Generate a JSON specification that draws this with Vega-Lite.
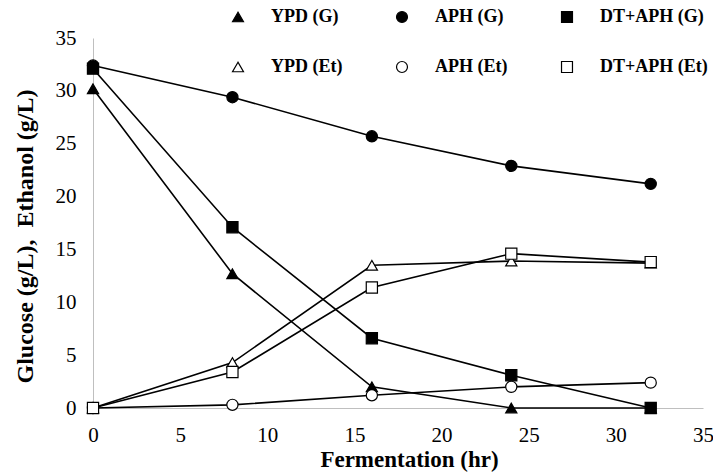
{
  "$schema": "https://vega.github.io/schema/vega-lite/v6.json",
  "width": 610,
  "height": 370,
  "autosize": {"type": "none"},
  "padding": {"left": 93, "top": 38, "right": 10, "bottom": 68},
  "background": "white",
  "config": {
    "view": {"stroke": null},
    "font": "Liberation Serif"
  },
  "data": {
    "values": [
      {"series": "YPD (G)", "time": 0, "value": 30.2},
      {"series": "YPD (G)", "time": 8, "value": 12.7},
      {"series": "YPD (G)", "time": 16, "value": 2.0},
      {"series": "YPD (G)", "time": 24, "value": 0},
      {"series": "YPD (G)", "time": 32, "value": 0},
      {"series": "APH (G)", "time": 0, "value": 32.4},
      {"series": "APH (G)", "time": 8, "value": 29.4},
      {"series": "APH (G)", "time": 16, "value": 25.7},
      {"series": "APH (G)", "time": 24, "value": 22.9},
      {"series": "APH (G)", "time": 32, "value": 21.2},
      {"series": "DT+APH (G)", "time": 0, "value": 32.1},
      {"series": "DT+APH (G)", "time": 8, "value": 17.1},
      {"series": "DT+APH (G)", "time": 16, "value": 6.6},
      {"series": "DT+APH (G)", "time": 24, "value": 3.1},
      {"series": "DT+APH (G)", "time": 32, "value": 0},
      {"series": "YPD (Et)", "time": 0, "value": 0},
      {"series": "YPD (Et)", "time": 8, "value": 4.3},
      {"series": "YPD (Et)", "time": 16, "value": 13.5},
      {"series": "YPD (Et)", "time": 24, "value": 13.9},
      {"series": "YPD (Et)", "time": 32, "value": 13.7},
      {"series": "APH (Et)", "time": 0, "value": 0},
      {"series": "APH (Et)", "time": 8, "value": 0.3},
      {"series": "APH (Et)", "time": 16, "value": 1.2},
      {"series": "APH (Et)", "time": 24, "value": 2.0},
      {"series": "APH (Et)", "time": 32, "value": 2.4},
      {"series": "DT+APH (Et)", "time": 0, "value": 0},
      {"series": "DT+APH (Et)", "time": 8, "value": 3.4},
      {"series": "DT+APH (Et)", "time": 16, "value": 11.4},
      {"series": "DT+APH (Et)", "time": 24, "value": 14.6},
      {"series": "DT+APH (Et)", "time": 32, "value": 13.8}
    ]
  },
  "encoding": {
    "x": {
      "field": "time", "type": "quantitative",
      "scale": {"domain": [0, 35], "nice": false},
      "axis": {
        "title": "Fermentation (hr)", "values": [0, 5, 10, 15, 20, 25, 30, 35],
        "grid": false, "ticks": false, "domainColor": "#bfbfbf", "domainWidth": 1,
        "labelFont": "Liberation Serif", "labelFontSize": 21, "labelColor": "black",
        "labelPadding": 16, "labelFlush": false,
        "titleFont": "Liberation Serif", "titleFontSize": 23, "titleFontWeight": "bold",
        "titleColor": "black", "titleBaseline": "alphabetic", "titleY": 58, "titleX": 316
      }
    },
    "y": {
      "field": "value", "type": "quantitative",
      "scale": {"domain": [0, 35], "nice": false},
      "axis": {
        "title": "Glucose (g/L),\u00a0 Ethanol (g/L)", "values": [0, 5, 10, 15, 20, 25, 30, 35],
        "grid": false, "ticks": false, "domainColor": "#bfbfbf", "domainWidth": 1,
        "labelFont": "Liberation Serif", "labelFontSize": 21, "labelColor": "black",
        "labelPadding": 17,
        "titleFont": "Liberation Serif", "titleFontSize": 24, "titleFontWeight": "bold",
        "titleColor": "black", "titleBaseline": "alphabetic", "titleX": -61, "titleY": 198
      }
    }
  },
  "layer": [
    {
      "mark": {"type": "line", "color": "black", "strokeWidth": 1.6},
      "encoding": {"detail": {"field": "series"}}
    },
    {
      "mark": {"type": "point", "filled": false, "strokeWidth": 1.2, "size": 125, "opacity": 1},
      "encoding": {
        "shape": {
          "field": "series", "type": "nominal",
          "scale": {
            "domain": ["YPD (G)", "APH (G)", "DT+APH (G)", "YPD (Et)", "APH (Et)", "DT+APH (Et)"],
            "range": ["triangle-up", "circle", "square", "triangle-up", "circle", "square"]
          },
          "legend": {
            "title": null, "orient": "none", "legendX": 136, "legendY": -30,
            "columns": 3, "direction": "horizontal", "gridAlign": "each",
            "columnPadding": 50, "rowPadding": 32,
            "symbolSize": 120, "symbolStrokeColor": "black", "symbolStrokeWidth": 1.2,
            "labelFont": "Liberation Serif", "labelFontSize": 18, "labelFontWeight": "bold",
            "labelColor": "black", "labelOffset": 24
          }
        },
        "fill": {
          "field": "series", "type": "nominal",
          "scale": {
            "domain": ["YPD (G)", "APH (G)", "DT+APH (G)", "YPD (Et)", "APH (Et)", "DT+APH (Et)"],
            "range": ["black", "black", "black", "white", "white", "white"]
          }
        },
        "stroke": {
          "field": "series", "type": "nominal",
          "scale": {
            "domain": ["YPD (G)", "APH (G)", "DT+APH (G)", "YPD (Et)", "APH (Et)", "DT+APH (Et)"],
            "range": ["black", "black", "black", "black", "black", "black"]
          }
        }
      }
    }
  ]
}
